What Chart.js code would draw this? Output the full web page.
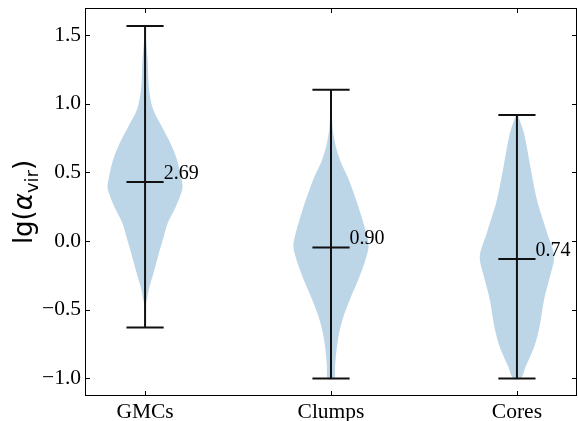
<!DOCTYPE html>
<html>
<head>
<meta charset="utf-8">
<script src="https://cdn.jsdelivr.net/npm/chart.js@4/dist/chart.umd.min.js"></script>
<style>
  html, body { margin: 0; padding: 0; background: #fff; }
  #wrap { width: 578px; height: 421px; }
</style>
</head>
<body>
<div id="wrap"><canvas id="myChart" width="578" height="421"></canvas></div>
<script>
// categories and summary values (log10 of alpha_vir)
var categories = ['GMCs', 'Clumps', 'Cores'];
var positions = [1, 2, 3];
var maxVals = [1.566, 1.103, 0.919];
var minVals = [-0.629, -1.0, -1.0];
var medianVals = [0.43, -0.046, -0.131];

// violin outlines: y level and relative density (1 = widest point)
var gmcsY = [1.566, 1.45, 1.32, 1.18, 1.077, 0.956, 0.834, 0.714, 0.592, 0.425, 0.374, 0.253, 0.132, 0.011, -0.11, -0.231, -0.352, -0.425, -0.48];
var gmcsD = [0, 0.03, 0.07, 0.09, 0.12, 0.22, 0.45, 0.68, 0.86, 1.0, 1.0, 0.83, 0.61, 0.48, 0.35, 0.23, 0.10, 0.05, 0];
var clumpsY = [1.103, 0.95, 0.81, 0.69, 0.57, 0.447, 0.206, 0.0, -0.062, -0.183, -0.304, -0.425, -0.546, -0.667, -0.789, -0.91, -1.0];
var clumpsD = [0, 0.02, 0.05, 0.13, 0.27, 0.48, 0.79, 1.0, 1.0, 0.87, 0.70, 0.51, 0.34, 0.22, 0.15, 0.11, 0.09];
var coresY = [0.919, 0.786, 0.544, 0.30, 0.06, -0.11, -0.256, -0.425, -0.62, -0.765, -0.91, -1.0];
var coresD = [0.02, 0.19, 0.36, 0.54, 0.81, 1.0, 0.89, 0.73, 0.61, 0.47, 0.24, 0.1];

var yTicks = [-1.0, -0.5, 0.0, 0.5, 1.0, 1.5];

var violinY = [gmcsY, clumpsY, coresY];
var violinD = [gmcsD, clumpsD, coresD];
var halfWidth = 0.2;   // widest half-width in x units
var capHalf = 0.1;
var serif = '"Liberation Serif", "Times New Roman", serif';

function outline(pos, ys, ds) {
    var pts = [];
    for (var i = 0; i < ys.length; i++) {
        pts.push({x: pos + ds[i] * halfWidth, y: ys[i]});
    }
    for (var j = ys.length - 1; j >= 0; j--) {
        pts.push({x: pos - ds[j] * halfWidth, y: ys[j]});
    }
    pts.push(pts[0]);
    return pts;
}

function seg(data) {
    return {
        data: data,
        showLine: true,
        borderColor: '#111',
        borderWidth: 2,
        pointRadius: 0,
        fill: false,
        order: 1
    };
}

var datasets = [];
for (var i = 0; i < positions.length; i++) {
    datasets.push({
        data: outline(positions[i], violinY[i], violinD[i]),
        showLine: true,
        fill: 'shape',
        backgroundColor: '#bcd6e8',
        borderColor: 'rgba(0,0,0,0)',
        borderWidth: 0,
        pointRadius: 0,
        tension: 0.3,
        order: 2
    });
}
for (var k = 0; k < positions.length; k++) {
    var p = positions[k];
    datasets.push(seg([{x: p, y: minVals[k]}, {x: p, y: maxVals[k]}]));
    datasets.push(seg([{x: p - capHalf, y: maxVals[k]}, {x: p + capHalf, y: maxVals[k]}]));
    datasets.push(seg([{x: p - capHalf, y: minVals[k]}, {x: p + capHalf, y: minVals[k]}]));
    datasets.push(seg([{x: p - capHalf, y: medianVals[k]}, {x: p + capHalf, y: medianVals[k]}]));
}

var framePlugin = {
    id: 'frame',
    afterDraw: function(chart) {
        var c = chart.ctx, a = chart.chartArea;
        var xs = chart.scales.x, ys = chart.scales.y;
        c.save();
        c.strokeStyle = '#000';
        c.lineWidth = 1;
        c.strokeRect(Math.round(a.left) + 0.5, Math.round(a.top) + 0.5,
            Math.round(a.right - a.left) - 1, Math.round(a.bottom - a.top) - 1);
        // inward ticks on all sides
        c.beginPath();
        yTicks.forEach(function(v) {
            var py = Math.round(ys.getPixelForValue(v)) + 0.5;
            c.moveTo(a.left, py); c.lineTo(a.left + 5, py);
            c.moveTo(a.right, py); c.lineTo(a.right - 5, py);
        });
        positions.forEach(function(v) {
            var px = Math.round(xs.getPixelForValue(v)) + 0.5;
            c.moveTo(px, a.bottom); c.lineTo(px, a.bottom - 5);
            c.moveTo(px, a.top); c.lineTo(px, a.top + 5);
        });
        c.stroke();

        // median labels (linear value)
        c.fillStyle = '#000';
        c.font = '20px ' + serif;
        c.textAlign = 'left';
        c.textBaseline = 'alphabetic';
        for (var i = 0; i < positions.length; i++) {
            var tx = xs.getPixelForValue(positions[i] + capHalf);
            var ty = ys.getPixelForValue(medianVals[i]) - 3;
            c.fillText(Math.pow(10, medianVals[i]).toFixed(2), tx, ty);
        }

        // y axis title lg(alpha_vir)
        var fs = 26;
        var parts = [
            {t: 'lg(', f: fs + 'px "DejaVu Sans"', dy: 0},
            {t: 'α', f: 'italic ' + fs + 'px "DejaVu Sans"', dy: 0},
            {t: 'vir', f: Math.round(fs * 0.7) + 'px "DejaVu Sans"', dy: fs * 0.22},
            {t: ')', f: fs + 'px "DejaVu Sans"', dy: 0}
        ];
        var total = 0;
        parts.forEach(function(pt) { c.font = pt.f; pt.w = c.measureText(pt.t).width; total += pt.w; });
        c.translate(32, (a.top + a.bottom) / 2);
        c.rotate(-Math.PI / 2);
        var cx = -total / 2;
        parts.forEach(function(pt) {
            c.font = pt.f;
            c.fillText(pt.t, cx, pt.dy);
            cx += pt.w;
        });
        c.restore();
    }
};

var ctx = document.getElementById('myChart').getContext('2d');
var myChart = new Chart(ctx, {
    type: 'scatter',
    data: { datasets: datasets },
    options: {
        responsive: false,
        animation: false,
        events: [],
        layout: { padding: { left: 0, right: 1, top: 8, bottom: 0 } },
        plugins: { legend: { display: false }, tooltip: { enabled: false } },
        scales: {
            x: {
                type: 'linear',
                min: 0.677,
                max: 3.323,
                afterBuildTicks: function(scale) {
                    scale.ticks = positions.map(function(v) { return {value: v}; });
                },
                afterFit: function(scale) {
                    scale.height = 25;
                    scale.paddingLeft = 0; scale.paddingRight = 0;
                },
                grid: { display: false, drawTicks: false },
                border: { display: false },
                ticks: {
                    padding: 3,
                    color: '#000',
                    font: { family: serif, size: 21.5 },
                    maxRotation: 0,
                    autoSkip: false,
                    callback: function(v) { return categories[positions.indexOf(v)]; }
                }
            },
            y: {
                min: -1.128,
                max: 1.698,
                afterBuildTicks: function(scale) {
                    scale.ticks = yTicks.map(function(v) { return {value: v}; });
                },
                afterFit: function(scale) {
                    scale.width = 85;
                    scale.paddingTop = 0; scale.paddingBottom = 0;
                },
                grid: { display: false, drawTicks: false },
                border: { display: false },
                ticks: {
                    padding: 4,
                    color: '#000',
                    font: { family: serif, size: 21.5 },
                    callback: function(v) { return v.toFixed(1).replace('-', '\u2212'); }
                }
            }
        }
    },
    plugins: [framePlugin]
});
</script>
</body>
</html>
